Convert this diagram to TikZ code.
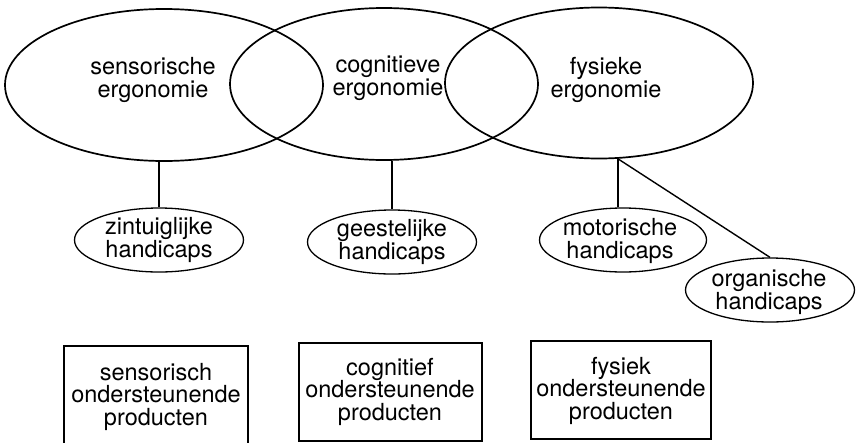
\documentclass[tikz,border=0pt]{standalone}
\usepackage{fontspec}
\setmainfont{TeX Gyre Heros}
\usetikzlibrary{shapes.geometric}
\begin{document}
\begin{tikzpicture}[x=1pt,y=-1pt,
  field/.style={draw, ellipse, line width=1.7pt, inner sep=0pt},
  handicap/.style={draw, ellipse, line width=1.3pt, inner sep=0pt,
    minimum width=169pt, minimum height=64pt},
  product/.style={draw, line width=1.3pt},
  label/.style={anchor=base, align=center, inner sep=0pt,
    font=\fontsize{23.5}{22.5}\selectfont},
  link/.style={line width=1.4pt}]
\useasboundingbox (0,0) rectangle (856,442);
\clip (0,0) rectangle (856,442);

% three overlapping fields of ergonomics
\node[field, minimum width=318pt, minimum height=152pt] (E1) at (164,85) {};
\node[field, minimum width=308pt, minimum height=152pt] (E2) at (384,84) {};
\node[field, minimum width=308pt, minimum height=151pt] (E3) at (599,83) {};
% (the base anchor of a multi-line label sits on its last line)
\node[label] (t1) at (153,97) {sensorische\\ergonomie};
\node[label] (t2) at (388,95) {cognitieve\\ergonomie};
\node[label] (t3) at (606,97) {fysieke\\ergonomie};

% kinds of handicaps
\node[handicap] (S1) at (159,240) {};
\node[handicap] (S2) at (392,242) {};
\node[handicap, minimum width=167pt] (S3) at (623,240) {};
\node[handicap] (S4) at (770,290) {};
\node[label] (h1) at (159,257) {zintuiglijke\\handicaps};
\node[label] (h2) at (392,259) {geestelijke\\handicaps};
\node[label] (h3) at (620,258) {motorische\\handicaps};
\node[label] (h4) at (769,309) {organische\\handicaps};

\coordinate (f) at (E3.-76);
\draw[link] (S1.north |- E1.south) -- (S1.north);
\draw[link] (S2.north |- E2.south) -- (S2.north);
\draw[link] (f) -- (f |- S3.north);
\draw[link] (f) -- (S4.north);

% supporting products
\node[product, minimum width=184pt, minimum height=106pt] (P1) at (156,399) {};
\node[product, minimum width=183pt, minimum height=98pt] (P2) at (390.5,392) {};
\node[product, minimum width=180pt, minimum height=98pt] (P3) at (621,390) {};
\node[label] (p1) at (156,425) {sensorisch\\ondersteunende\\producten};
\node[label] (p2) at (390,420) {cognitief\\ondersteunende\\producten};
\node[label] (p3) at (621,419) {fysiek\\ondersteunende\\producten};
\end{tikzpicture}
\end{document}
